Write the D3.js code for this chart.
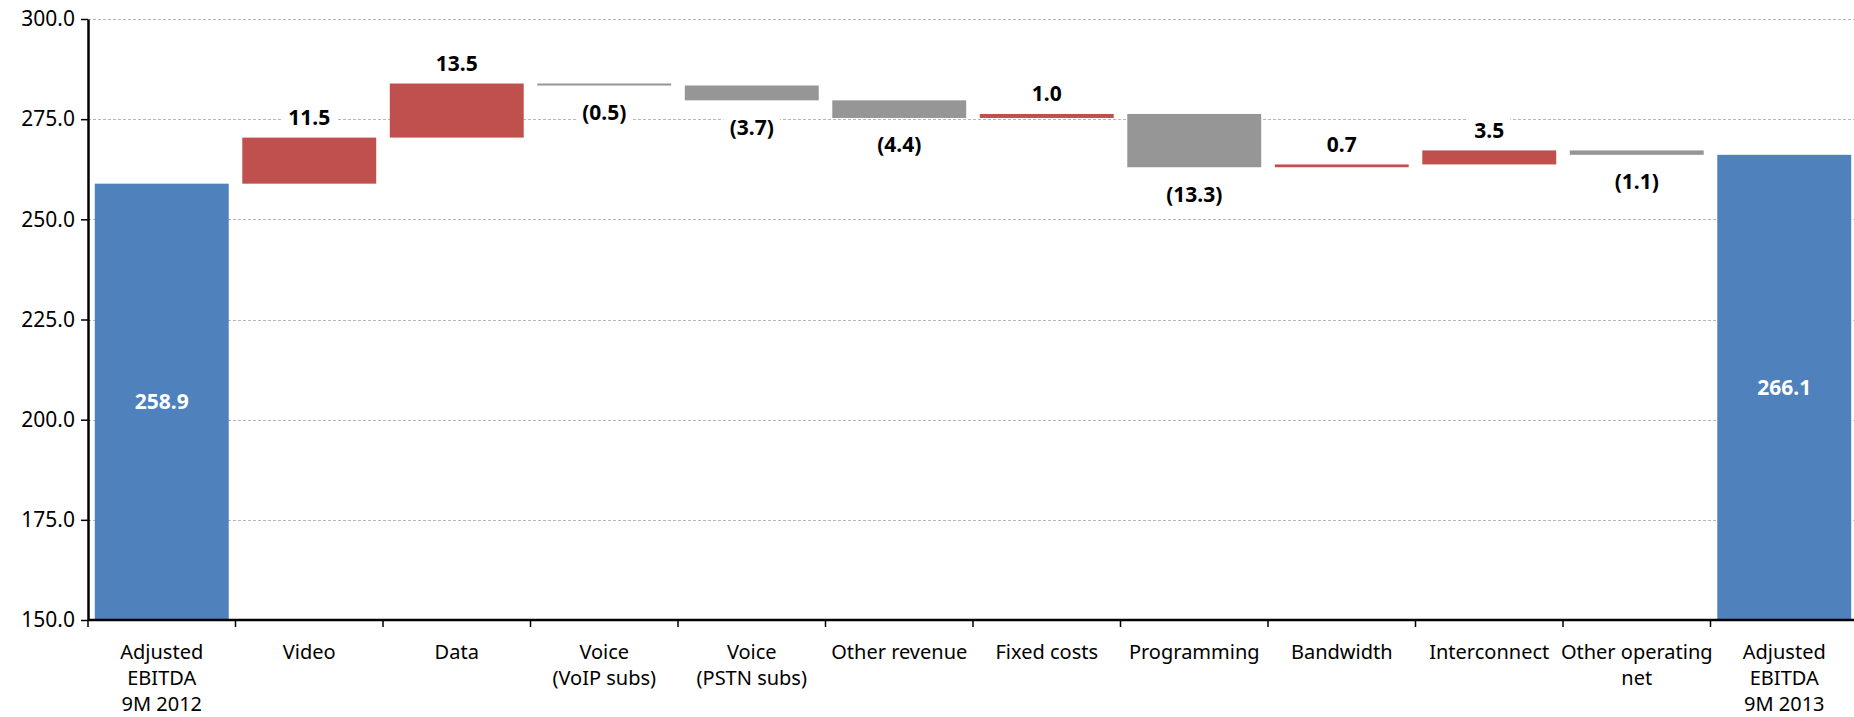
<!DOCTYPE html>
<html>
<head>
<meta charset="utf-8">
<script src="https://cdn.jsdelivr.net/npm/d3@7"></script>
<style>
  html, body { margin: 0; padding: 0; background: #fff; overflow: hidden; }
  svg { display: block; font-family: "Noto Sans", "Open Sans", sans-serif; }
</style>
</head>
<body>
<div id="chart"></div>
<script>
// EBITDA bridge, 9M 2012 -> 9M 2013

// Categories (label lines per bar)
const categories = [
  ["Adjusted", "EBITDA", "9M 2012"],
  ["Video"],
  ["Data"],
  ["Voice", "(VoIP subs)"],
  ["Voice", "(PSTN subs)"],
  ["Other revenue"],
  ["Fixed costs"],
  ["Programming"],
  ["Bandwidth"],
  ["Interconnect"],
  ["Other operating", "net"],
  ["Adjusted", "EBITDA", "9M 2013"]
];

// Starting and ending totals
const startTotal = 258.9;
const endTotal = 266.1;

// Changes between the two totals
const deltas = [11.5, 13.5, -0.5, -3.7, -4.4, 1.0, -13.3, 0.7, 3.5, -1.1];

// Y axis ticks
const yTicks = [150, 175, 200, 225, 250, 275, 300];

const colors = { total: "#4F81BD", up: "#C0504D", down: "#969696" };

// Build waterfall steps
let running = startTotal;
const steps = [{ key: 0, type: "total", y0: 150, y1: startTotal, value: startTotal }];
deltas.forEach((d, i) => {
  const from = running;
  running = +(running + d).toFixed(1);
  steps.push({ key: i + 1, type: d >= 0 ? "up" : "down", y0: from, y1: running, value: d });
});
steps.push({ key: categories.length - 1, type: "total", y0: 150, y1: endTotal, value: endTotal });

const W = 1854, H = 717;
const margin = { top: 19, right: -4, bottom: 97, left: 88 };
const width = W - margin.left - margin.right;
const height = H - margin.top - margin.bottom;

const svg = d3.select("#chart").append("svg").attr("width", W).attr("height", H);
const g = svg.append("g").attr("transform", `translate(${margin.left},${margin.top})`);

const x = d3.scaleBand()
  .domain(d3.range(categories.length))
  .range([0, width])
  .paddingInner(0.092)
  .paddingOuter(0.046);

const y = d3.scaleLinear().domain([150, 300]).range([height, 0]);

// Gridlines
g.append("g")
  .selectAll("line")
  .data(yTicks.filter((t) => t > 150))
  .join("line")
  .attr("x1", 0)
  .attr("x2", width)
  .attr("y1", (d) => Math.round(y(d)) + 0.5)
  .attr("y2", (d) => Math.round(y(d)) + 0.5)
  .attr("stroke", "#b8b8b8")
  .attr("stroke-width", 1)
  .attr("stroke-dasharray", "3,2");

const fmt = (v) => (v < 0 ? `(${Math.abs(v).toFixed(1)})` : v.toFixed(1));

const labelLayer = g.append("g");

// Bars
g.append("g")
  .selectAll("rect")
  .data(steps)
  .join("rect")
  .attr("x", (d) => x(d.key))
  .attr("width", x.bandwidth())
  .attr("y", (d) => y(Math.max(d.y0, d.y1)))
  .attr("height", (d) => Math.max(2, Math.abs(y(d.y0) - y(d.y1))))
  .attr("fill", (d) => colors[d.type]);

// Value labels for changes (white box cuts the gridline)
const changeLabels = labelLayer
  .selectAll("g")
  .data(steps.filter((d) => d.type !== "total"))
  .join("g")
  .attr("transform", (d) => {
    const cx = x(d.key) + x.bandwidth() / 2;
    const cy = d.type === "up" ? y(d.y1) - 20 : y(d.y1) + 27;
    return `translate(${cx},${cy})`;
  });

changeLabels.each(function (d) {
  const sel = d3.select(this);
  const t = sel.append("text")
    .attr("text-anchor", "middle")
    .attr("dy", "0.35em")
    .style("font-size", "21px")
    .style("font-weight", "bold")
    .style("fill", "#000")
    .text(fmt(d.value));
  const bb = t.node().getBBox();
  sel.insert("rect", "text")
    .attr("x", bb.x - 6)
    .attr("y", bb.y)
    .attr("width", bb.width + 12)
    .attr("height", bb.height)
    .attr("fill", "#fff");
});

// Total labels inside blue bars
g.append("g")
  .selectAll("text")
  .data(steps.filter((d) => d.type === "total"))
  .join("text")
  .attr("x", (d) => x(d.key) + x.bandwidth() / 2)
  .attr("y", (d) => (y(d.y0) + y(d.y1)) / 2)
  .attr("dy", "0.35em")
  .attr("text-anchor", "middle")
  .style("font-size", "21px")
  .style("font-weight", "bold")
  .style("fill", "#fff")
  .text((d) => d.value.toFixed(1));

// Y axis
const yAxis = g.append("g")
  .call(d3.axisLeft(y).tickValues(yTicks).tickFormat(d3.format(".1f")).tickSize(7).tickSizeOuter(0));
yAxis.select(".domain").attr("stroke", "#000").attr("stroke-width", 2.5);
yAxis.selectAll(".tick line").attr("stroke", "#000").attr("stroke-width", 1.5);
yAxis.selectAll(".tick text")
  .attr("x", -13)
  .style("font-size", "21px")
  .style("font-family", "Noto Sans")
  .style("fill", "#000");

// X axis
const xAxisG = g.append("g").attr("transform", `translate(0,${height})`);
xAxisG.append("line")
  .attr("x1", 0).attr("x2", width)
  .attr("stroke", "#000").attr("stroke-width", 2.5);

// Ticks at category boundaries
const step = x.step();
const edge0 = x(0) - step * x.paddingOuter();
xAxisG.selectAll("line.tick")
  .data(d3.range(categories.length + 1))
  .join("line")
  .attr("class", "tick")
  .attr("x1", (i) => edge0 + i * step)
  .attr("x2", (i) => edge0 + i * step)
  .attr("y1", 0)
  .attr("y2", 7)
  .attr("stroke", "#000")
  .attr("stroke-width", 1.5);

// Category labels
const catText = xAxisG.selectAll("text.cat")
  .data(categories)
  .join("text")
  .attr("class", "cat")
  .attr("text-anchor", "middle")
  .attr("x", (d, i) => x(i) + x.bandwidth() / 2)
  .attr("y", 39)
  .style("font-size", "20px")
  .style("fill", "#000");

catText.selectAll("tspan")
  .data((d) => d)
  .join("tspan")
  .attr("x", function () { return d3.select(this.parentNode).attr("x"); })
  .attr("dy", (d, i) => (i === 0 ? 0 : 26))
  .text((d) => d);
</script>
</body>
</html>
